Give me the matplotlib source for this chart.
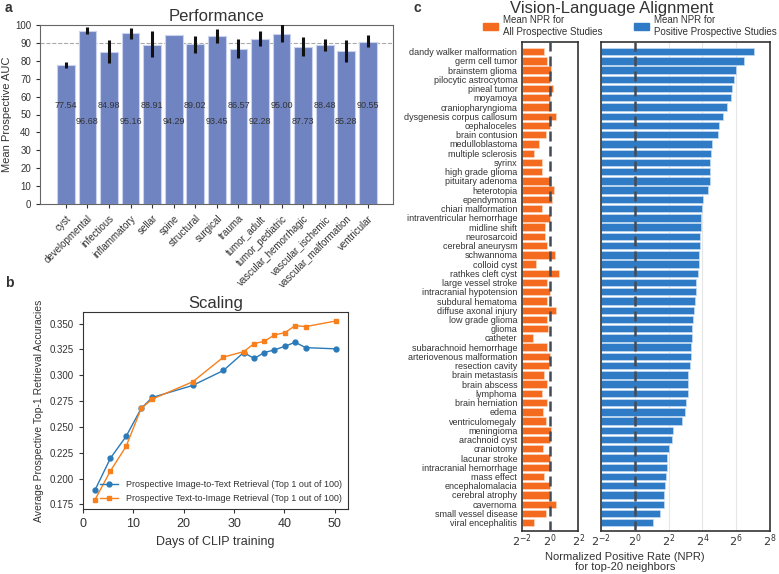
import numpy as np
import matplotlib
matplotlib.use("Agg")
import matplotlib.pyplot as plt
from matplotlib.patches import Patch

plt.rcParams['font.family'] = ['Liberation Sans', 'DejaVu Sans']
plt.rcParams['text.color'] = '#333333'
plt.rcParams['axes.labelcolor'] = '#333333'
plt.rcParams['xtick.color'] = '#333333'
plt.rcParams['ytick.color'] = '#333333'
plt.rcParams['axes.edgecolor'] = '#333333'

# ---- panel a data ----
categories = ['cyst', 'developmental', 'infectious', 'inflammatory', 'sellar', 'spine',
              'structural', 'surgical', 'trauma', 'tumor_adult', 'tumor_pediatric',
              'vascular_hemorrhagic', 'vascular_ischemic', 'vascular_malformation', 'ventricular']
auc = [77.54, 96.68, 84.98, 95.16, 88.91, 94.29, 89.02, 93.45, 86.57, 92.28, 95.00,
       87.73, 88.48, 85.28, 90.55]
auc_lo = [76.1, 94.8, 78.7, 92.2, 81.9, 94.29, 84.3, 89.8, 81.3, 88.0, 90.2, 82.4, 85.2, 79.3, 87.4]
auc_hi = [79.3, 98.7, 91.5, 98.1, 96.3, 94.29, 93.9, 97.6, 92.2, 96.5, 100.4, 93.1, 91.9, 91.3, 94.1]

# ---- panel b data ----
days = [2.4, 5.5, 8.6, 11.6, 13.8, 21.8, 27.9, 31.9, 34.0, 36.0, 38.0, 40.1, 42.1, 44.2, 50.2]
img2txt = [0.1885, 0.2197, 0.2408, 0.2679, 0.2785, 0.2901, 0.3046, 0.3219, 0.3162, 0.3219,
           0.3245, 0.3280, 0.3319, 0.3267, 0.3255]
txt2img = [0.1792, 0.2074, 0.2311, 0.2679, 0.2769, 0.2936, 0.3175, 0.3228, 0.3306, 0.3328,
           0.3389, 0.3412, 0.3480, 0.3470, 0.3525]

# ---- panel c data ----
findings = ['dandy walker malformation', 'germ cell tumor', 'brainstem glioma',
            'pilocytic astrocytoma', 'pineal tumor', 'moyamoya', 'craniopharyngioma',
            'dysgenesis corpus callosum', 'cephaloceles', 'brain contusion', 'medulloblastoma',
            'multiple sclerosis', 'syrinx', 'high grade glioma', 'pituitary adenoma',
            'heterotopia', 'ependymoma', 'chiari malformation', 'intraventricular hemorrhage',
            'midline shift', 'neurosarcoid', 'cerebral aneurysm', 'schwannoma', 'colloid cyst',
            'rathkes cleft cyst', 'large vessel stroke', 'intracranial hypotension',
            'subdural hematoma', 'diffuse axonal injury', 'low grade glioma', 'glioma',
            'catheter', 'subarachnoid hemorrhage', 'arteriovenous malformation',
            'resection cavity', 'brain metastasis', 'brain abscess', 'lymphoma',
            'brain herniation', 'edema', 'ventriculomegaly', 'meningioma', 'arachnoid cyst',
            'craniotomy', 'lacunar stroke', 'intracranial hemorrhage', 'mass effect',
            'encephalomalacia', 'cerebral atrophy', 'cavernoma', 'small vessel disease',
            'viral encephalitis']
npr_all = [0.76, 0.86, 1.05, 1.00, 1.16, 1.00, 1.00, 1.38, 1.01, 0.84, 0.58,
           0.47, 0.69, 0.69, 1.00, 1.25, 1.12, 0.69, 0.99, 0.79, 0.80, 0.86, 1.27, 0.50,
           1.56, 0.86, 1.00, 0.88, 1.33, 0.85, 0.91, 0.44, 0.88, 1.00, 0.94, 0.74, 0.85,
           0.68, 0.86, 0.72, 0.81, 1.04, 1.00, 0.70, 1.00, 1.00, 0.74, 0.99, 0.97, 1.33,
           0.82, 0.47]
npr_pos = [133, 89, 64, 59, 54, 52, 44, 37.5, 32, 30.3, 23.6,
           22.9, 22.3, 21.7, 21.6, 20.4, 16.7, 15.8, 15.3, 15.1, 14.7, 14.4, 14.0, 13.8,
           13.5, 12.4, 12.1, 11.6, 11.2, 10.9, 10.6, 10.5, 9.9, 9.9, 9.6, 8.8, 8.7,
           8.7, 8.1, 7.8, 6.8, 4.7, 4.6, 4.0, 3.7, 3.7, 3.65, 3.4, 3.35, 3.3,
           2.8, 2.1]

W, H = 779, 574
fig = plt.figure(figsize=(W / 100, H / 100), dpi=100)

def box(l, t, r, b):
    return [l / W, 1 - b / H, (r - l) / W, (b - t) / H]

# ================= panel a =================
ax = fig.add_axes(box(40, 24.7, 392.7, 204.3))
x = np.arange(len(categories))
auc = np.array(auc)
yerr = [auc - np.array(auc_lo), np.array(auc_hi) - auc]
ax.bar(x, auc, width=0.82, color='#7084c2', edgecolor='#c9d2ee', linewidth=0.8, zorder=2)
ax.errorbar(x, auc, yerr=yerr, fmt='none', ecolor='#111111', elinewidth=2.2, capsize=0, zorder=3)
ax.axhline(90, color='#aaaaaa', ls='--', lw=0.8, zorder=1)
for i, v in enumerate(auc):
    ax.text(i, 55 if i % 2 == 0 else 46, f'{v:.2f}', ha='center', va='center',
            fontsize=6.5, color='#333333', zorder=4)
ax.set_xlim(-1.2, 15.15)
ax.set_ylim(0, 100)
ax.set_yticks(range(0, 101, 10))
ax.set_xticks(x)
ax.set_xticklabels(categories, rotation=45, ha='right', rotation_mode='anchor', fontsize=7)
ax.tick_params(axis='y', labelsize=7, length=3)
ax.tick_params(axis='x', length=3)
ax.set_ylabel('Mean Prospective AUC', fontsize=8)
ax.yaxis.set_label_coords(-0.079, 0.5)
ax.set_title('Performance', fontsize=12, pad=3)
for s in ax.spines.values():
    s.set_color('#666666')

# ================= panel b =================
bx = fig.add_axes(box(82.7, 312, 348, 509))
bx.plot(days, img2txt, '-o', color='#2a7ab9', ms=3.5, lw=1,
        label='Prospective Image-to-Text Retrieval (Top 1 out of 100)')
bx.plot(days, txt2img, '-s', color='#f7801c', ms=3.5, lw=1,
        label='Prospective Text-to-Image Retrieval (Top 1 out of 100)')
bx.set_xticks(range(0, 51, 10))
bx.set_yticks(np.arange(0.175, 0.351, 0.025))
bx.set_yticklabels([f'{v:.3f}' for v in np.arange(0.175, 0.351, 0.025)])
bx.tick_params(axis='x', labelsize=9, length=3)
bx.tick_params(axis='y', labelsize=7, length=3)
bx.set_xlabel('Days of CLIP training', fontsize=9)
bx.set_ylabel('Average Prospective Top-1 Retrieval Accuracies', fontsize=7.5)
bx.set_title('Scaling', fontsize=12, pad=3)
bx.legend(loc='lower right', fontsize=6.5, frameon=False, handlelength=2, borderaxespad=0.3)

# ================= panel c =================
yc = np.arange(len(findings))
xmin = 2 ** -2
cl = fig.add_axes(box(521.5, 42, 578.3, 531))
cr = fig.add_axes(box(601, 42, 770, 531), sharey=cl)
cl.barh(yc, np.array(npr_all) - xmin, left=xmin, height=0.8, color='#f46a1f',
        edgecolor='#ffd6bd', linewidth=0.5, zorder=2)
cr.barh(yc, np.array(npr_pos) - xmin, left=xmin, height=0.8, color='#2f7bc5',
        edgecolor='#c5dcf2', linewidth=0.5, zorder=2)
for a_, hi in ((cl, 2), (cr, 8)):
    a_.set_xscale('log', base=2)
    a_.set_xlim(2 ** -2, 2 ** hi)
    ticks = [2.0 ** k for k in range(-2, hi + 1, 2)]
    a_.set_xticks(ticks)
    a_.set_xticklabels([f'$2^{{{k}}}$' for k in range(-2, hi + 1, 2)])
    a_.xaxis.set_minor_locator(matplotlib.ticker.NullLocator())
    a_.axvline(1, color='#444a55', ls=(0, (4, 2)), lw=1.8, zorder=3)
    a_.tick_params(axis='x', labelsize=8, length=0, pad=1)
    for s in a_.spines.values():
        s.set_color('#333333')
        s.set_linewidth(1.2)
cr.grid(axis='x', color='#e6e6e6', lw=0.8, zorder=0)
cr.set_axisbelow(True)
cl.set_ylim(len(findings) - 0.6 + 0.5, -1.04)
cl.set_yticks(yc)
cl.set_yticklabels(findings, fontsize=6.5)
cl.tick_params(axis='y', length=0, pad=3)
cr.tick_params(axis='y', length=0, labelleft=False)

fig.text(612 / W, 1 - 8 / H, 'Vision-Language Alignment', ha='center', va='center', fontsize=12)
fig.text(625 / W, 1 - 562 / H, 'Normalized Positive Rate (NPR)\nfor top-20 neighbors',
         ha='center', va='center', fontsize=8, linespacing=1.0)
handles = [Patch(color='#f46a1f', label='Mean NPR for\nAll Prospective Studies'),
           Patch(color='#2f7bc5', label='Mean NPR for\nPositive Prospective Studies')]
fig.legend(handles=handles, loc='center', bbox_to_anchor=(630 / W, 1 - 26 / H), ncol=2,
           frameon=False, fontsize=7, handlelength=1.6, handleheight=0.6,
           columnspacing=3.2, handletextpad=0.5)

# panel letters
fig.text(5 / W, 1 - 8 / H, 'a', fontsize=10, fontweight='bold', va='center')
fig.text(5 / W, 1 - 283 / H, 'b', fontsize=10, fontweight='bold', va='center')
fig.text(413 / W, 1 - 8 / H, 'c', fontsize=10, fontweight='bold', va='center')

fig.savefig('out.png', dpi=100)
